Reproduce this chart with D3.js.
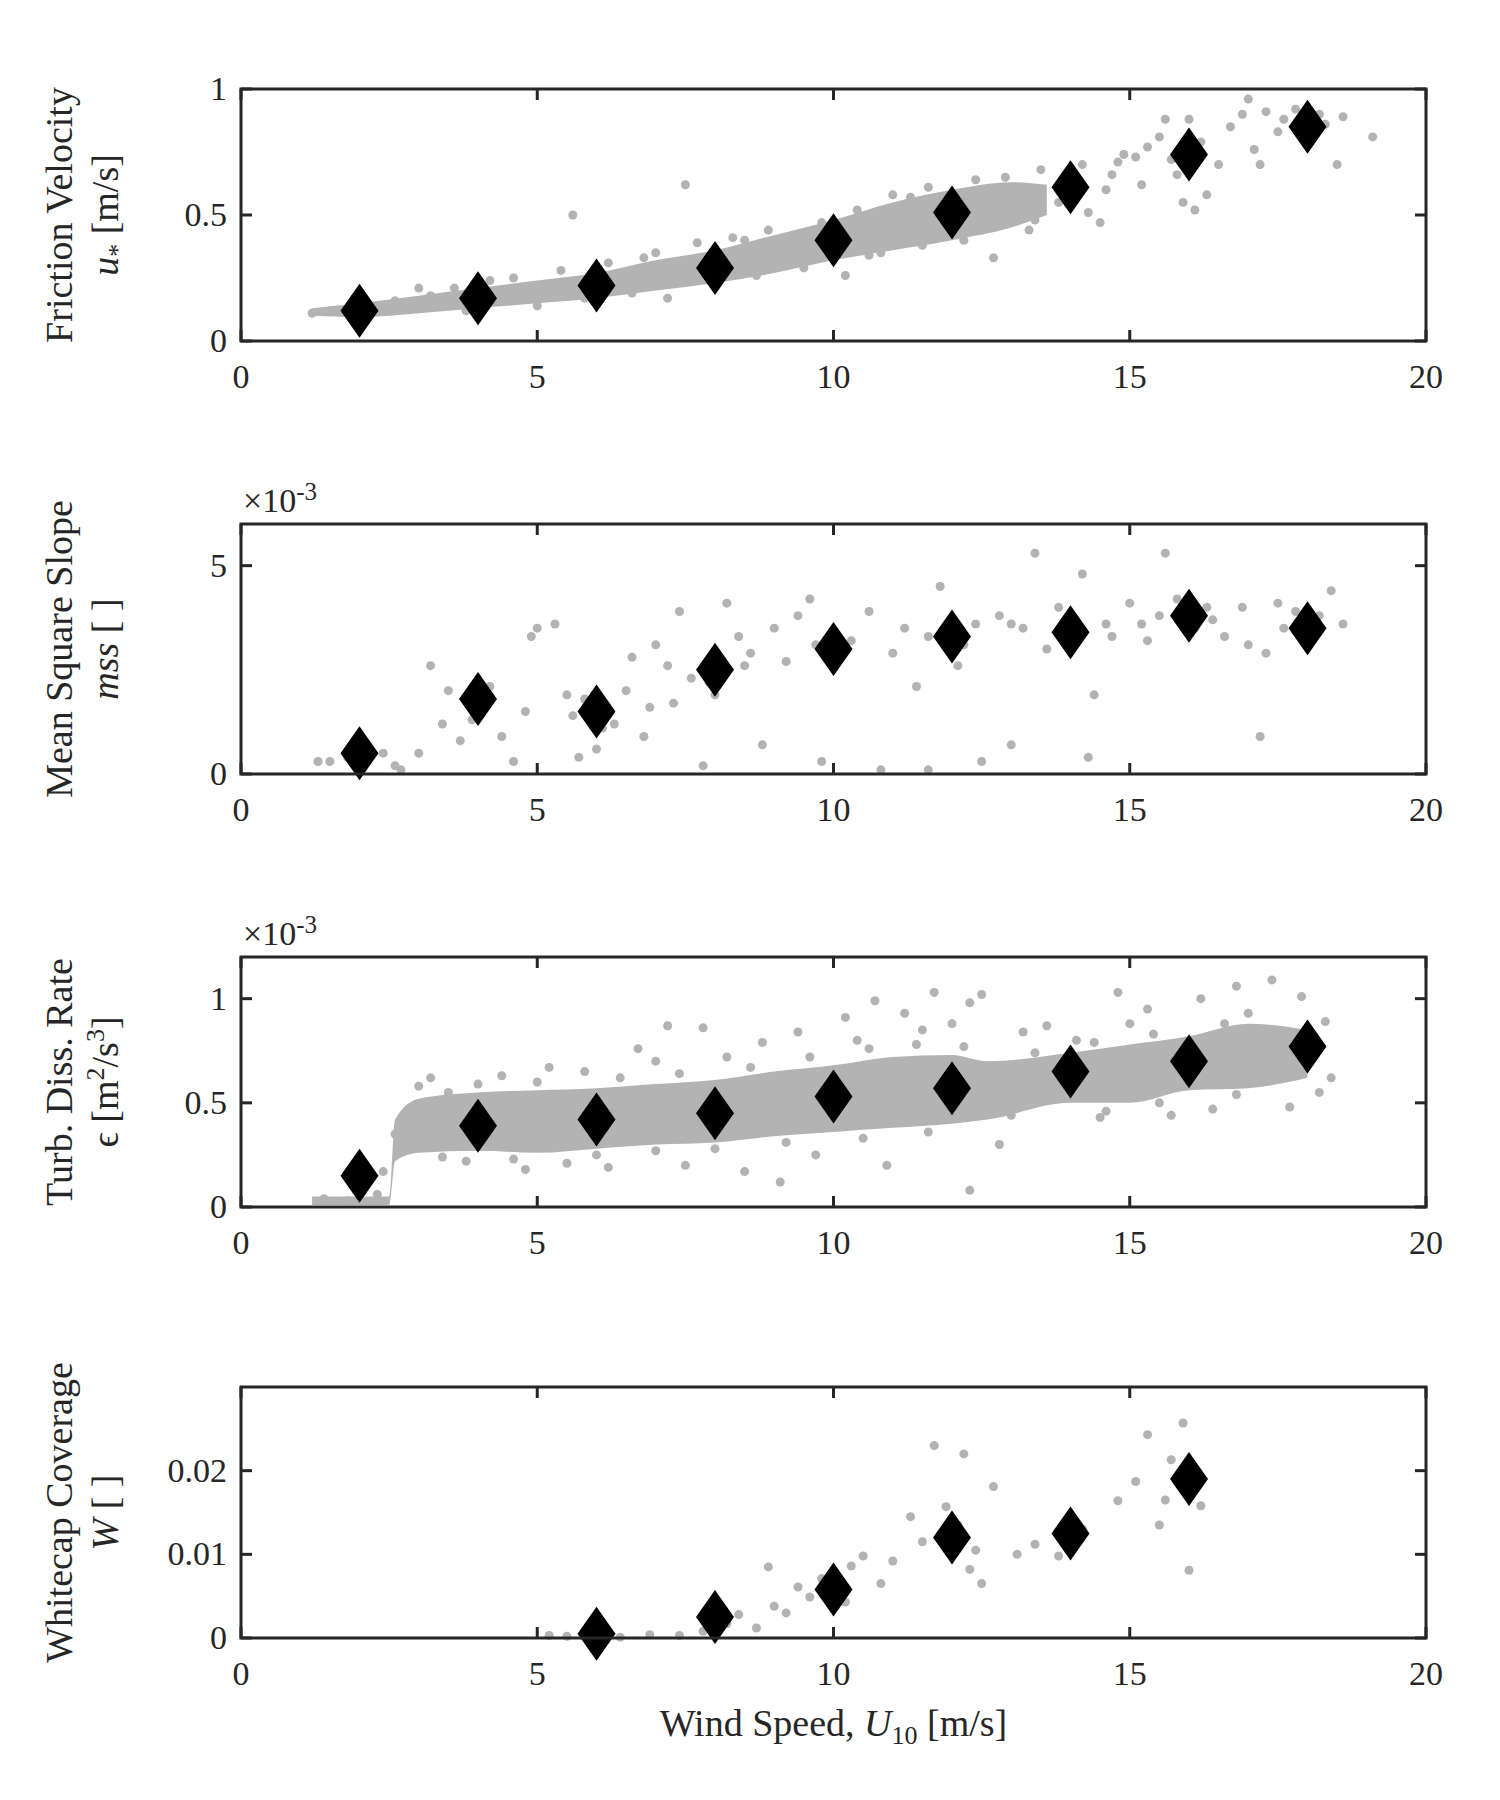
<!DOCTYPE html>
<html><head><meta charset="utf-8">
<script src="https://cdn.jsdelivr.net/npm/d3@7"></script>
<style>body{margin:0;background:#fff}text{font-family:"Liberation Serif","DejaVu Serif",serif}</style>
</head><body><svg id="chart" width="1500" height="1800"></svg>
<script>
// bin means (diamonds)
const binX = [2, 4, 6, 8, 10, 12, 14, 16, 18];
const ustarMean = [0.12, 0.17, 0.22, 0.29, 0.40, 0.51, 0.61, 0.74, 0.85];
const mssMean = [0.5, 1.8, 1.5, 2.5, 3.0, 3.3, 3.4, 3.8, 3.5];
const epsMean = [0.15, 0.39, 0.42, 0.45, 0.53, 0.57, 0.65, 0.70, 0.77];
const wcX = [6, 8, 10, 12, 14, 16];
const wcMean = [0.0005, 0.0025, 0.0058, 0.012, 0.0125, 0.019];

// dense part of the clouds: [x, low, high]
const ustarBand = [[1.2,0.10,0.13],[2,0.095,0.15],[3,0.11,0.18],[4,0.13,0.21],[5,0.15,0.24],[6,0.17,0.27],[7,0.20,0.32],[8,0.23,0.36],[9,0.27,0.42],[10,0.32,0.48],[11,0.36,0.55],[12,0.40,0.60],[13,0.45,0.63],[13.6,0.50,0.62]];
const epsBand = [[1.2,0.01,0.05],[2.5,0.01,0.05],[2.6,0.22,0.42],[3,0.26,0.52],[4,0.27,0.55],[5,0.26,0.56],[6,0.28,0.57],[7,0.30,0.59],[8,0.31,0.61],[9,0.34,0.65],[10,0.36,0.68],[11,0.38,0.72],[12,0.40,0.73],[12.6,0.42,0.70],[14,0.50,0.74],[15,0.50,0.78],[16,0.56,0.82],[17,0.57,0.88],[18,0.62,0.85]];

// scattered points
const ustarPts = [[1.2,0.11],[1.5,0.12],[2.6,0.16],[3.2,0.18],[3.6,0.21],[4.2,0.24],[5.1,0.22],[5.6,0.50],[5.8,0.17],[6.4,0.26],[6.8,0.33],[7.5,0.62],[7.2,0.17],[8.5,0.40],[8.9,0.44],[9.2,0.30],[9.8,0.47],[10.2,0.26],[10.6,0.34],[11.3,0.57],[11.8,0.43],[12.2,0.40],[12.7,0.33],[12.9,0.65],[13.3,0.44],[13.5,0.68],[13.8,0.55],[14.3,0.51],[14.5,0.47],[14.2,0.70],[14.8,0.71],[15.1,0.73],[15.3,0.77],[15.5,0.81],[15.2,0.62],[15.8,0.66],[15.9,0.55],[16.0,0.88],[16.2,0.79],[16.3,0.58],[16.1,0.52],[16.5,0.70],[16.7,0.85],[16.9,0.90],[17.0,0.96],[17.1,0.76],[17.3,0.91],[17.5,0.83],[17.2,0.70],[17.6,0.88],[17.8,0.92],[18.0,0.78],[18.2,0.90],[18.3,0.86],[18.5,0.70],[18.6,0.89],[19.1,0.81],[15.6,0.88],[14.7,0.66],[13.1,0.52],
  [3.0,0.21],[4.6,0.25],[5.4,0.28],[6.2,0.31],[7.0,0.35],[7.7,0.39],[8.3,0.41],[9.5,0.36],[10.4,0.52],[11.0,0.58],[11.6,0.61],[12.4,0.64],[13.0,0.59],[14.0,0.56],[14.6,0.60],[3.8,0.12],[5.0,0.14],[6.6,0.19],[8.0,0.22],[8.7,0.26],[9.5,0.29],[10.8,0.35],[11.5,0.38],[12.5,0.44],[13.4,0.48],[14.1,0.64],[14.9,0.74],[15.7,0.72]];
const mssPts = [[1.3,0.3],[1.5,0.3],[1.8,0.4],[2.1,0.6],[2.4,0.5],[2.6,0.2],[2.7,0.1],[3.0,0.5],[3.2,2.6],[3.5,2.0],[3.7,0.8],[3.9,1.3],[4.2,2.1],[4.4,0.9],[4.6,0.3],[4.8,1.5],[4.9,3.3],[5.0,3.5],[5.3,3.6],[5.5,1.9],[5.7,0.4],[5.8,1.8],[6.0,0.6],[6.3,1.2],[6.5,2.0],[6.6,2.8],[6.8,0.9],[7.0,3.1],[7.2,2.6],[7.3,1.7],[7.4,3.9],[7.6,2.3],[7.8,0.2],[8.0,1.9],[8.2,4.1],[8.4,3.3],[8.6,2.9],[8.8,0.7],[9.0,3.5],[9.2,2.7],[9.4,3.8],[9.6,4.2],[9.8,0.3],[10.3,3.2],[10.6,3.9],[10.8,0.1],[11.0,2.9],[11.2,3.5],[11.4,2.1],[11.6,0.1],[11.8,4.5],[12.1,2.6],[12.4,3.6],[12.5,0.3],[12.8,3.8],[13.0,0.7],[13.2,3.5],[13.4,5.3],[13.6,3.0],[13.8,4.0],[14.0,3.0],[14.2,4.8],[14.3,0.4],[14.4,1.9],[14.7,3.3],[15.0,4.1],[15.2,3.6],[15.5,3.8],[15.6,5.3],[15.8,4.2],[16.1,3.5],[16.3,4.0],[16.6,3.3],[16.9,4.0],[17.0,3.1],[17.2,0.9],[17.3,2.9],[17.5,4.1],[17.8,3.9],[18.2,3.8],[18.4,4.4],[18.6,3.6],
  [5.6,1.4],[6.1,1.1],[6.9,1.6],[7.9,2.2],[8.5,2.6],[9.7,3.1],[10.1,2.8],[11.6,3.3],[12.2,3.1],[13.0,3.6],[14.6,3.6],[15.3,3.2],[16.4,3.7],[17.6,3.5],[4.1,1.6],[3.4,1.2]];
const epsPts = [[1.4,0.04],[1.8,0.03],[2.3,0.06],[2.4,0.17],[2.6,0.35],[2.9,0.48],[3.2,0.62],[3.5,0.55],[3.8,0.22],[4.4,0.63],[4.8,0.18],[5.2,0.67],[5.5,0.21],[5.8,0.65],[6.2,0.19],[6.7,0.76],[7.0,0.70],[7.2,0.87],[7.5,0.20],[7.8,0.86],[8.2,0.72],[8.5,0.17],[8.8,0.79],[9.1,0.12],[9.4,0.84],[9.7,0.25],[10.2,0.91],[10.4,0.80],[10.7,0.99],[10.9,0.20],[11.2,0.93],[11.5,0.85],[11.7,1.03],[12.0,0.88],[12.3,0.98],[12.5,1.02],[12.3,0.08],[12.8,0.30],[13.2,0.84],[13.6,0.87],[14.1,0.80],[14.5,0.43],[14.8,1.03],[15.0,0.88],[15.3,0.95],[15.7,0.44],[16.2,1.00],[16.4,0.47],[16.8,1.06],[17.0,0.93],[17.4,1.09],[17.7,0.48],[17.9,1.01],[18.2,0.55],[18.3,0.89],
  [3.0,0.58],[4.0,0.59],[5.0,0.60],[6.4,0.62],[7.4,0.64],[8.6,0.67],[9.6,0.72],[10.6,0.76],[11.4,0.78],[12.2,0.77],[13.4,0.74],[14.4,0.79],[15.4,0.83],[16.6,0.88],[3.4,0.24],[4.6,0.23],[6.0,0.25],[7.0,0.27],[8.0,0.28],[9.2,0.31],[10.5,0.33],[11.6,0.36],[13.0,0.44],[14.6,0.46],[15.5,0.50],[16.8,0.54],[18.4,0.62]];
const wcPts = [[5.2,0.0003],[5.5,0.0002],[5.9,0.0004],[6.4,0.0001],[6.9,0.0004],[7.4,0.0003],[7.8,0.0008],[8.2,0.0017],[8.4,0.0028],[8.7,0.0012],[8.9,0.0085],[9.0,0.0038],[9.2,0.0030],[9.4,0.0061],[9.6,0.0049],[9.8,0.0071],[10.2,0.0043],[10.3,0.0086],[10.5,0.0098],[10.8,0.0065],[11.0,0.0092],[11.3,0.0145],[11.5,0.0115],[11.7,0.0230],[11.9,0.0157],[12.1,0.0135],[12.2,0.0220],[12.3,0.0082],[12.4,0.0105],[12.5,0.0065],[12.7,0.0181],[13.1,0.0100],[13.4,0.0112],[13.8,0.0098],[14.2,0.0130],[14.8,0.0164],[15.1,0.0187],[15.3,0.0243],[15.5,0.0135],[15.7,0.0213],[15.9,0.0257],[16.0,0.0081],[16.2,0.0158],[15.6,0.0165],[16.1,0.0198]];

const svg = d3.select("#chart");
const L = 241, R = 1426;
const x = d3.scaleLinear().domain([0, 20]).range([L, R]);
const grey = "#b3b3b3", ink = "#262626";

const panels = [
  {top: 89, bot: 341, dom: [0, 1], ticks: [0, 0.5, 1], band: ustarBand, pts: ustarPts, mx: binX, my: ustarMean,
   l1: "Friction Velocity", l2: [["u","i"],["*","sub"],[" [m/s]","back"]]},
  {top: 524, bot: 774, dom: [0, 6], ticks: [0, 5], pts: mssPts, mx: binX, my: mssMean, exp: true,
   l1: "Mean Square Slope", l2: [["mss","i"],[" [ ]",""]]},
  {top: 957, bot: 1207, dom: [0, 1.2], ticks: [0, 0.5, 1], band: epsBand, pts: epsPts, mx: binX, my: epsMean, exp: true,
   l1: "Turb. Diss. Rate", l2: [["\u03f5",""],[" [m",""],["2","sup"],["/s","back"],["3","sup"],["]","back"]]},
  {top: 1387, bot: 1638, dom: [0, 0.03], ticks: [0, 0.01, 0.02], pts: wcPts, mx: wcX, my: wcMean,
   l1: "Whitecap Coverage", l2: [["W","i"],[" [ ]",""]]}
];

panels.forEach(p => {
  const y = d3.scaleLinear().domain(p.dom).range([p.bot, p.top]);
  const g = svg.append("g");
  if (p.band) {
    g.append("path").datum(p.band)
      .attr("d", d3.area().x(d => x(d[0])).y0(d => y(d[1])).y1(d => y(d[2])).curve(d3.curveMonotoneX))
      .attr("fill", grey);
  }
  g.selectAll(".pt").data(p.pts).enter().append("circle")
    .attr("cx", d => x(d[0])).attr("cy", d => y(d[1])).attr("r", 4.5).attr("fill", grey);
  g.selectAll(".dm").data(p.mx.map((v, i) => [v, p.my[i]])).enter().append("path")
    .attr("transform", d => `translate(${x(d[0])},${y(d[1])})`)
    .attr("d", "M0,-27L19,0L0,27L-19,0Z").attr("fill", "#000");

  // ticks on all four sides, pointing inward
  const tl = 11;
  x.ticks(4).forEach(t => {
    g.append("line").attr("x1", x(t)).attr("x2", x(t)).attr("y1", p.bot).attr("y2", p.bot - tl).attr("stroke", ink).attr("stroke-width", 3);
    g.append("line").attr("x1", x(t)).attr("x2", x(t)).attr("y1", p.top).attr("y2", p.top + tl).attr("stroke", ink).attr("stroke-width", 3);
    g.append("text").attr("x", x(t)).attr("y", p.bot + 47).attr("text-anchor", "middle").attr("font-size", 34).attr("fill", ink).text(t);
  });
  p.ticks.forEach(t => {
    g.append("line").attr("x1", L).attr("x2", L + tl).attr("y1", y(t)).attr("y2", y(t)).attr("stroke", ink).attr("stroke-width", 3);
    g.append("line").attr("x1", R).attr("x2", R - tl).attr("y1", y(t)).attr("y2", y(t)).attr("stroke", ink).attr("stroke-width", 3);
    g.append("text").attr("x", L - 14).attr("y", y(t) + 11).attr("text-anchor", "end").attr("font-size", 34).attr("fill", ink).text(t);
  });
  g.append("rect").attr("x", L).attr("y", p.top).attr("width", R - L).attr("height", p.bot - p.top)
    .attr("fill", "none").attr("stroke", ink).attr("stroke-width", 3);

  if (p.exp) {
    const e = g.append("text").attr("x", L + 2).attr("y", p.top - 12).attr("font-size", 34).attr("fill", ink);
    e.append("tspan").text("\u00d710");
    e.append("tspan").attr("dy", -12).attr("font-size", 25).text("-3");
  }

  const cy = (p.top + p.bot) / 2;
  g.append("text").attr("transform", `translate(72,${cy}) rotate(-90)`).attr("text-anchor", "middle")
    .attr("font-size", 38).attr("fill", ink).text(p.l1);
  const t2 = g.append("text").attr("transform", `translate(118,${cy}) rotate(-90)`).attr("text-anchor", "middle")
    .attr("font-size", 38).attr("fill", ink);
  let shift = 0;
  p.l2.forEach(([s, k]) => {
    const ts = t2.append("tspan").text(s);
    if (k === "i") ts.attr("font-style", "italic");
    if (k === "sub") { ts.attr("font-size", 26).attr("dy", 8); shift = 8; }
    if (k === "sup") { ts.attr("font-size", 26).attr("dy", -14); shift = -14; }
    if (k === "back") { ts.attr("dy", -shift); shift = 0; }
  });
});

const xl = svg.append("text").attr("x", (L + R) / 2).attr("y", 1736).attr("text-anchor", "middle")
  .attr("font-size", 38).attr("fill", ink);
xl.append("tspan").text("Wind Speed, ");
xl.append("tspan").attr("font-style", "italic").text("U");
xl.append("tspan").attr("font-size", 26).attr("dy", 8).text("10");
xl.append("tspan").attr("dy", -8).text(" [m/s]");
</script></body></html>
